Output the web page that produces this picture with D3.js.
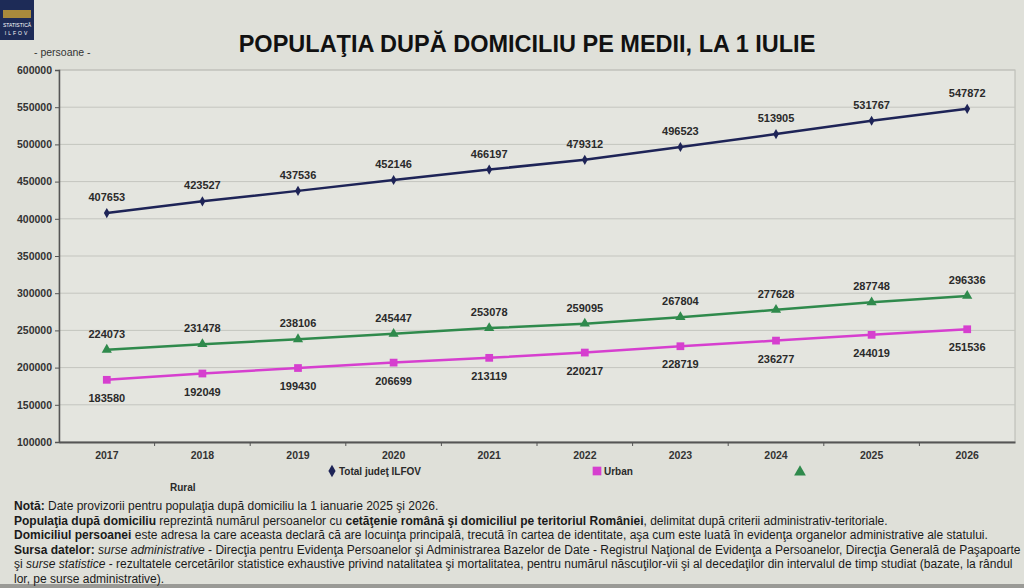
<!DOCTYPE html>
<html lang="ro">
<head>
<meta charset="UTF-8">
<title>Populaţia după domiciliu pe medii</title>
<script src="https://cdnjs.cloudflare.com/ajax/libs/d3/7.8.5/d3.min.js"></script>
<style>
    body { margin: 0; background: #dedfd8; overflow: hidden; font-family: Arial, "Liberation Sans", sans-serif; }
    svg { display: block; }
    .tick text { font-weight: bold; font-size: 10.5px; fill: #333; }
    .lbl { font-size: 11px; font-weight: bold; fill: #2a2a2a; }
    .note { font-size: 12px; fill: #1a1a1a; }
</style>
</head>
<body>
<svg id="chart" width="1024" height="588"></svg>
<script>
    // data
    const years = ["2017", "2018", "2019", "2020", "2021", "2022", "2023", "2024", "2025", "2026"];
    const total = [407653, 423527, 437536, 452146, 466197, 479312, 496523, 513905, 531767, 547872];
    const urban = [183580, 192049, 199430, 206699, 213119, 220217, 228719, 236277, 244019, 251536];
    const rural = [224073, 231478, 238106, 245447, 253078, 259095, 267804, 277628, 287748, 296336];
    const yTicks = [100000, 150000, 200000, 250000, 300000, 350000, 400000, 450000, 500000, 550000, 600000];

    const series = [
        { name: "Total judeţ ILFOV", values: total, color: "#1e2457", symbol: d3.symbolDiamond, size: 30, below: false },
        { name: "Urban", values: urban, color: "#d63fcf", symbol: d3.symbolSquare, size: 60, below: true },
        { name: "Rural", values: rural, color: "#2f8a4c", symbol: d3.symbolTriangle, size: 45, below: false }
    ];

    const svg = d3.select("#chart");
    const m = { left: 59, right: 1015, top: 70, bottom: 442 };

    // light page background with darker strip at the bottom
    svg.append("rect").attr("width", 1024).attr("height", 588).attr("fill", "#dfe0d9");
    svg.append("rect").attr("y", 584).attr("width", 1024).attr("height", 4).attr("fill", "#9a9a96");

    // logo block
    const logo = svg.append("g");
    logo.append("rect").attr("x", 0).attr("y", 0).attr("width", 34).attr("height", 40).attr("fill", "#1d2b57");
    logo.append("text").attr("x", 17).attr("y", 27).attr("text-anchor", "middle")
        .style("font-size", "5px").style("fill", "#ffffff").text("STATISTICĂ");
    logo.append("text").attr("x", 17).attr("y", 35).attr("text-anchor", "middle")
        .style("font-size", "5px").style("letter-spacing", "2px").style("fill", "#ffffff").text("ILFOV");
    logo.append("rect").attr("x", 3).attr("y", 10).attr("width", 28).attr("height", 8).attr("fill", "#a88a3c");

    svg.append("text").attr("x", 527).attr("y", 52).attr("text-anchor", "middle")
        .style("font-size", "23.5px").style("font-weight", "bold").style("fill", "#111")
        .text("POPULAŢIA DUPĂ DOMICILIU PE MEDII, LA 1 IULIE");

    svg.append("text").attr("x", 34).attr("y", 56)
        .style("font-size", "10.5px").style("fill", "#333").text("- persoane -");

    const x = d3.scaleBand().domain(years).range([m.left, m.right]);
    const y = d3.scaleLinear().domain([100000, 600000]).range([m.bottom, m.top]);

    // plot area
    svg.append("rect").attr("x", m.left).attr("y", m.top)
        .attr("width", m.right - m.left).attr("height", m.bottom - m.top)
        .attr("fill", "#e4e5df").attr("stroke", "#b8b8b2");

    // gridlines
    svg.append("g").selectAll("line").data(yTicks).join("line")
        .attr("x1", m.left).attr("x2", m.right)
        .attr("y1", d => y(d)).attr("y2", d => y(d))
        .attr("stroke", "#c4c5bf").attr("stroke-width", 1);

    const yAxis = svg.append("g").attr("transform", `translate(${m.left},0)`)
        .call(d3.axisLeft(y).tickValues(yTicks).tickSize(4).tickFormat(d3.format("d")));
    yAxis.select(".domain").attr("stroke", "#555").attr("stroke-width", 1.5);
    yAxis.selectAll(".tick line").attr("stroke", "#555");

    const xAxis = svg.append("g").attr("transform", `translate(0,${m.bottom})`)
        .call(d3.axisBottom(x).tickSize(0).tickPadding(10));
    xAxis.select(".domain").attr("stroke", "#555").attr("stroke-width", 2);
    // tick marks between categories
    xAxis.append("g").selectAll("line").data(years.slice(1)).join("line")
        .attr("x1", d => x(d)).attr("x2", d => x(d)).attr("y1", 0).attr("y2", 4)
        .attr("stroke", "#555");

    const line = d3.line().x((d, i) => x(years[i]) + x.bandwidth() / 2).y(d => y(d));

    series.forEach(s => {
        const g = svg.append("g");
        g.append("path").datum(s.values).attr("d", line)
            .attr("fill", "none").attr("stroke", s.color).attr("stroke-width", 2.5);
        g.selectAll("path.pt").data(s.values).join("path").attr("class", "pt")
            .attr("d", d3.symbol().type(s.symbol).size(s.size))
            .attr("transform", (d, i) => `translate(${x(years[i]) + x.bandwidth() / 2},${y(d)})`)
            .attr("fill", s.color);
        g.selectAll("text").data(s.values).join("text").attr("class", "lbl")
            .attr("x", (d, i) => x(years[i]) + x.bandwidth() / 2)
            .attr("y", d => y(d) + (s.below ? 22 : -12))
            .attr("text-anchor", "middle")
            .text(d => d);
    });

    // legend
    const legend = [
        { s: series[0], x: 332, y: 471, text: true },
        { s: series[1], x: 597, y: 471, text: true },
        { s: series[2], x: 800, y: 472, text: false }
    ];
    legend.forEach(l => {
        svg.append("path").attr("d", d3.symbol().type(l.s.symbol).size(l.s.size + 15))
            .attr("transform", `translate(${l.x},${l.y})`).attr("fill", l.s.color);
        if (l.text) {
            svg.append("text").attr("x", l.x + 7).attr("y", l.y + 3.5).attr("class", "lbl")
                .style("font-size", "10px").text(l.s.name);
        }
    });
    svg.append("text").attr("x", 170).attr("y", 491).attr("class", "lbl")
        .style("font-size", "10px").text("Rural");

    // notes below the chart
    const notes = [
        [["b", "Notă:"], ["n", " Date provizorii pentru populaţia după domiciliu la 1 ianuarie 2025 şi 2026."]],
        [["b", "Populaţia după domiciliu"], ["n", " reprezintă numărul persoanelor cu "], ["b", "cetăţenie română şi domiciliul pe teritoriul României"], ["n", ", delimitat după criterii administrativ-teritoriale."]],
        [["b", "Domiciliul persoanei"], ["n", " este adresa la care aceasta declară că are locuinţa principală, trecută în cartea de identitate, aşa cum este luată în evidenţa organelor administrative ale statului."]],
        [["b", "Sursa datelor:"], ["i", " surse administrative"], ["n", " - Direcţia pentru Evidenţa Persoanelor şi Administrarea Bazelor de Date - Registrul Naţional de Evidenţa a Persoanelor, Direcţia Generală de Paşapoarte"]],
        [["n", "şi "], ["i", "surse statistice"], ["n", " - rezultatele cercetărilor statistice exhaustive privind natalitatea şi mortalitatea, pentru numărul născuţilor-vii şi al decedaţilor din intervalul de timp studiat (bazate, la rândul"]],
        [["n", "lor, pe surse administrative)."]]
    ];
    notes.forEach((parts, i) => {
        const t = svg.append("text").attr("class", "note").attr("x", 14).attr("y", 510 + i * 14.5);
        parts.forEach(p => {
            t.append("tspan")
                .style("font-weight", p[0] === "b" ? "bold" : "normal")
                .style("font-style", p[0] === "i" ? "italic" : "normal")
                .text(p[1]);
        });
    });
</script>
</body>
</html>
